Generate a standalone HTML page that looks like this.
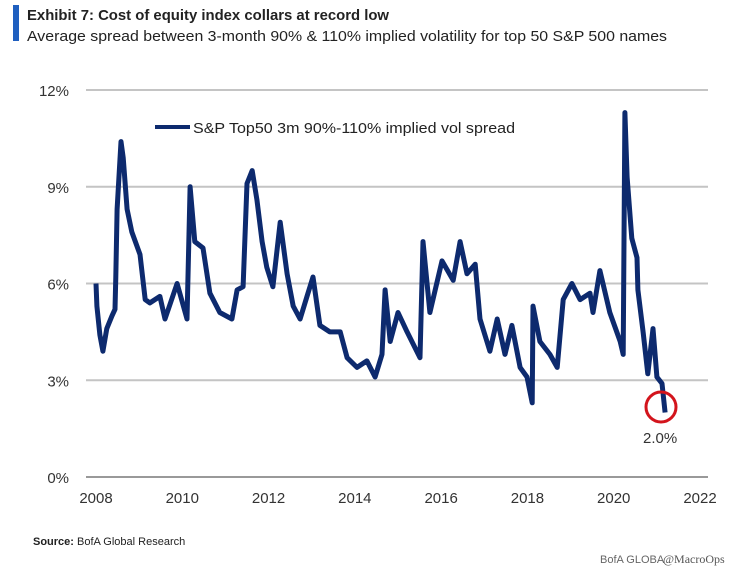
<!DOCTYPE html>
<html><head><meta charset="utf-8"><style>
body{margin:0;background:#fff;width:739px;height:574px;overflow:hidden;font-family:"Liberation Sans",sans-serif}
svg{display:block}
</style></head><body>
<svg width="739" height="574">
<rect x="13" y="5" width="6" height="36" fill="#1f5fbf"/>
<text x="27" y="20" font-size="15" font-weight="bold" fill="#222" textLength="362" lengthAdjust="spacingAndGlyphs">Exhibit 7: Cost of equity index collars at record low</text>
<text x="27" y="41" font-size="14.5" fill="#222" textLength="640" lengthAdjust="spacingAndGlyphs">Average spread between 3-month 90% &amp; 110% implied volatility for top 50 S&amp;P 500 names</text>
<g id="grid"></g>
<g id="ylab"></g>
<g id="xlab"></g>
<line x1="155" y1="127" x2="190" y2="127" stroke="#0d2a6e" stroke-width="4"/>
<text x="193" y="133" font-size="15" fill="#222" textLength="322" lengthAdjust="spacingAndGlyphs">S&amp;P Top50 3m 90%-110% implied vol spread</text>
<path id="series" fill="none" stroke="#0d2a6e" stroke-width="5" stroke-linejoin="round"/>
<circle cx="661" cy="407" r="15" fill="none" stroke="#d3141c" stroke-width="3"/>
<text x="643" y="443" font-size="15" fill="#333">2.0%</text>
<text x="33" y="545" font-size="11" font-weight="bold" fill="#222">Source:</text>
<text x="77" y="545" font-size="11" fill="#222">BofA Global Research</text>
<text x="600" y="563" font-size="11" fill="#666">BofA GLOBA</text>
<text x="663" y="563" font-size="12" fill="#555" font-family="Liberation Serif,serif">@MacroOps</text>
</svg>
<script>
const yTicks=[0,3,6,9,12];
const yTickLabels=["0%","3%","6%","9%","12%"];
const xTicks=[2008,2010,2012,2014,2016,2018,2020,2022];
const dates=[0.00,0.02,0.09,0.16,0.25,0.37,0.44,0.46,0.49,0.58,0.63,0.72,0.83,1.02,1.14,1.25,1.48,1.60,1.88,2.11,2.18,2.29,2.48,2.64,2.87,3.15,3.27,3.41,3.50,3.62,3.73,3.85,3.96,4.10,4.27,4.43,4.57,4.73,4.89,5.03,5.19,5.42,5.66,5.82,6.05,6.28,6.47,6.63,6.70,6.82,7.00,7.21,7.51,7.58,7.74,8.02,8.28,8.44,8.60,8.79,8.90,9.13,9.30,9.48,9.64,9.83,9.99,10.11,10.13,10.29,10.52,10.69,10.83,11.03,11.22,11.45,11.52,11.68,11.91,12.15,12.22,12.26,12.31,12.42,12.54,12.56,12.68,12.79,12.91,13.00,13.12,13.19];
const spread=[6.0,5.3,4.4,3.9,4.6,5.0,5.2,6.2,8.3,10.4,9.9,8.3,7.6,6.9,5.5,5.4,5.6,4.9,6.0,4.9,9.0,7.3,7.1,5.7,5.1,4.9,5.8,5.9,9.1,9.5,8.6,7.3,6.5,5.9,7.9,6.3,5.3,4.9,5.6,6.2,4.7,4.5,4.5,3.7,3.4,3.6,3.1,3.8,5.8,4.2,5.1,4.5,3.7,7.3,5.1,6.7,6.1,7.3,6.3,6.6,4.9,3.9,4.9,3.8,4.7,3.4,3.1,2.3,5.3,4.2,3.8,3.4,5.5,6.0,5.5,5.7,5.1,6.4,5.1,4.2,3.8,11.3,9.3,7.4,6.8,5.8,4.5,3.2,4.6,3.1,2.9,2.0];
const X0=96,X1=700,Y0=477,Y1=90;
const xs=yr=>X0+(yr-2008)/14*(X1-X0);
const ys=v=>Y0-v/12*(Y0-Y1);
const NS="http://www.w3.org/2000/svg";
const grid=document.getElementById('grid'),yl=document.getElementById('ylab'),xl=document.getElementById('xlab');
yTicks.forEach((t,i)=>{
  const l=document.createElementNS(NS,'line');
  l.setAttribute('x1',86);l.setAttribute('x2',708);l.setAttribute('y1',ys(t));l.setAttribute('y2',ys(t));
  l.setAttribute('stroke',i==0?'#999':'#c4c4c4');l.setAttribute('stroke-width',2);
  
  
  grid.appendChild(l);
  const tx=document.createElementNS(NS,'text');
  tx.setAttribute('x',69);tx.setAttribute('y',ys(t)+6);tx.setAttribute('text-anchor','end');
  tx.setAttribute('font-size',15);tx.setAttribute('fill','#333');tx.textContent=yTickLabels[i];
  
  
  yl.appendChild(tx);
});
xTicks.forEach(t=>{
  const tx=document.createElementNS(NS,'text');
  tx.setAttribute('x',xs(t));tx.setAttribute('y',503);tx.setAttribute('text-anchor','middle');
  tx.setAttribute('font-size',15);tx.setAttribute('fill','#333');tx.textContent=t;
  
  
  xl.appendChild(tx);
});
document.getElementById('series').setAttribute('d',dates.map((d,i)=>(i?'L':'M')+xs(2008+d).toFixed(1)+','+ys(spread[i]).toFixed(1)).join(''));
</script>
</body></html>
